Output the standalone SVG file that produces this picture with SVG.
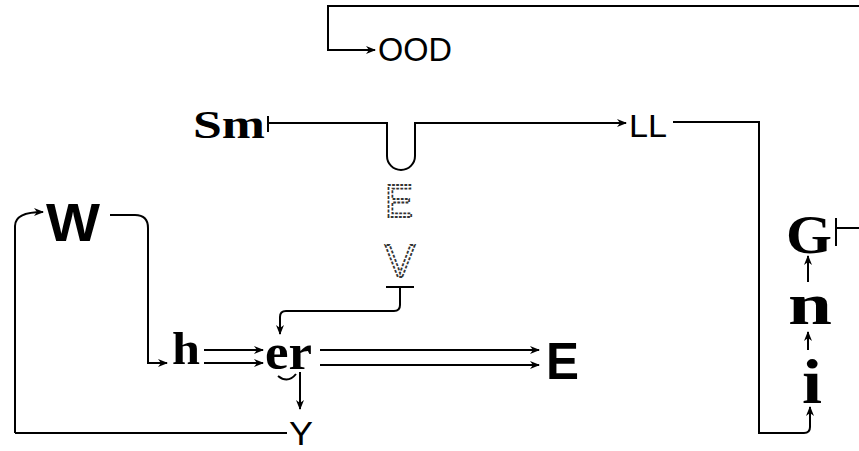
<svg xmlns="http://www.w3.org/2000/svg" width="859" height="451" viewBox="0 0 859 451">
<defs>
<marker id="ah" markerWidth="10" markerHeight="8" refX="9" refY="4" orient="auto" markerUnits="userSpaceOnUse">
<path d="M0,0 L10,4 L0,8 L3,4 Z" fill="#000"/>
</marker>
<style>
.c{fill:none;stroke:#000;stroke-width:2}
.s{font-family:"Liberation Sans",Arial,sans-serif;fill:#000}
.sb{font-family:"Liberation Sans",Arial,sans-serif;font-weight:bold;fill:#000}
.rb{font-family:"Liberation Serif","Times New Roman",serif;font-weight:bold;fill:#000}
.o{font-family:"Liberation Sans",Arial,sans-serif;fill:#fff;stroke:#333;stroke-width:1.8;stroke-dasharray:3 1.5}
</style>
</defs>
<rect width="859" height="451" fill="#fff"/>
<g id="connectors">
<path class="c" d="M859 6 H328 V50 H375" marker-end="url(#ah)"/>
<path class="c" d="M268 116 V132"/>
<path class="c" d="M268 123 H387 V156 A14 14 0 0 0 415 156 V123 H626" marker-end="url(#ah)"/>
<path class="c" d="M673 122 H759 V433 H804 Q810 433 810 427 V407" marker-end="url(#ah)"/>
<path class="c" d="M836 218 V246 M836 228 H859"/>
<path class="c" d="M808 282 V256" marker-end="url(#ah)"/>
<path class="c" d="M808 350 V332" marker-end="url(#ah)"/>
<path class="c" d="M15 433 V226 Q15 212 43 212" marker-end="url(#ah)"/>
<path class="c" d="M110 215 H135 Q148 215 148 228 V363 H167" marker-end="url(#ah)"/>
<path class="c" d="M15 433 H287"/>
<path class="c" d="M204 350 H263" marker-end="url(#ah)"/>
<path class="c" d="M204 363 H263" marker-end="url(#ah)"/>
<path class="c" d="M320 350 H539" marker-end="url(#ah)"/>
<path class="c" d="M320 365 H539" marker-end="url(#ah)"/>
<path class="c" d="M386 287 H414 M400 287 V305 Q400 311 394 311 H286 Q280 311 280 317 V334" marker-end="url(#ah)"/>
<path class="c" d="M278 376 Q288 384 296 374"/>
<path class="c" d="M300 372 V409" marker-end="url(#ah)"/>
</g>
<g id="OOD"><text class="s" x="378" y="61" font-size="34" textLength="74" lengthAdjust="spacingAndGlyphs">OOD</text></g>
<g id="Sm"><text class="rb" x="193" y="138" font-size="40" textLength="72" lengthAdjust="spacingAndGlyphs">Sm</text></g>
<g id="LL"><text class="s" x="629" y="137" font-size="32" textLength="38" lengthAdjust="spacingAndGlyphs">LL</text></g>
<g id="W"><text class="sb" x="46" y="241" font-size="54" textLength="54" lengthAdjust="spacingAndGlyphs">W</text></g>
<g id="Eo"><text class="o" x="385" y="217" font-size="46" textLength="28" lengthAdjust="spacingAndGlyphs">E</text></g>
<g id="Vo"><text class="o" x="385" y="277" font-size="46" textLength="30" lengthAdjust="spacingAndGlyphs">V</text></g>
<g id="h"><text class="rb" x="172" y="364" font-size="46" textLength="28" lengthAdjust="spacingAndGlyphs">h</text></g>
<g id="er"><text class="rb" x="265" y="369" font-size="50" textLength="47" lengthAdjust="spacingAndGlyphs">er</text></g>
<g id="E"><text class="sb" x="546" y="379" font-size="52" textLength="33" lengthAdjust="spacingAndGlyphs">E</text></g>
<g id="Y"><text class="s" x="289" y="445" font-size="34" textLength="24" lengthAdjust="spacingAndGlyphs">Y</text></g>
<g id="G"><text class="rb" x="786" y="253" font-size="54" textLength="46" lengthAdjust="spacingAndGlyphs">G</text></g>
<g id="n"><text class="rb" x="788" y="324" font-size="60" textLength="44" lengthAdjust="spacingAndGlyphs">n</text></g>
<g id="i"><text class="rb" x="802" y="403" font-size="64" textLength="20" lengthAdjust="spacingAndGlyphs">i</text></g>
</svg>
